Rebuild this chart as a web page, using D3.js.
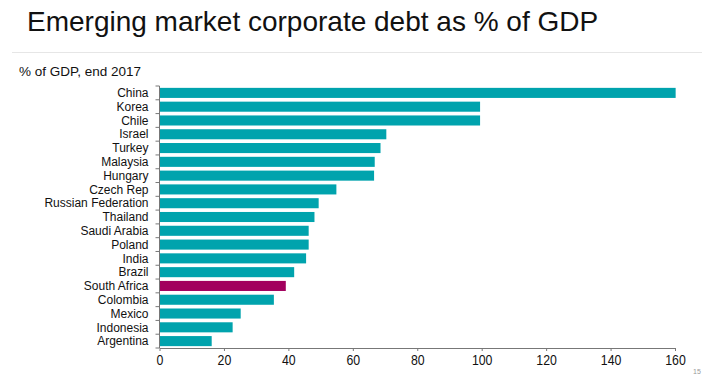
<!DOCTYPE html>
<html><head><meta charset="utf-8">
<script src="https://cdn.jsdelivr.net/npm/d3@7"></script>
<style>body{margin:0;background:#fff}svg{display:block}text{font-family:"Liberation Sans",Arial,sans-serif}</style>
</head><body>
<svg id="c" width="714" height="379"></svg>
<script>
const categories = ["China","Korea","Chile","Israel","Turkey","Malaysia","Hungary","Czech Rep","Russian Federation","Thailand","Saudi Arabia","Poland","India","Brazil","South Africa","Colombia","Mexico","Indonesia","Argentina"];
const values = [160.2,99.5,99.5,70.4,68.6,66.8,66.6,54.9,49.4,48.1,46.3,46.3,45.5,41.8,39.2,35.5,25.2,22.7,16.2];
const highlight = ["South Africa"];
const xTicks = [0,20,40,60,80,100,120,140,160];
const title = "Emerging market corporate debt as % of GDP";
const subtitle = "% of GDP, end 2017";
const pageNo = "15";

const svg = d3.select("#c");
const x = d3.scaleLinear().domain([0,160]).range([159.5,675]);
const y = d3.scaleBand().domain(categories).range([86,348]).paddingInner(0.27).paddingOuter(0.135);

svg.append("text").attr("x",27).attr("y",31).attr("font-size",28).attr("fill","#111").text(title);
svg.append("line").attr("x1",12).attr("x2",702).attr("y1",52.5).attr("y2",52.5).attr("stroke","#e6e6e6").attr("stroke-width",1);
svg.append("text").attr("x",19).attr("y",76).attr("font-size",13.5).attr("fill","#111").text(subtitle);

svg.selectAll("rect.bar").data(categories).join("rect").attr("class","bar")
  .attr("x",x(0)).attr("y",d=>y(d)).attr("height",y.bandwidth())
  .attr("width",(d,i)=>x(values[i])-x(0))
  .attr("fill",d=>highlight.includes(d)?"#A2005E":"#00A3AD");

// y axis
const yg = svg.append("g");
yg.append("line").attr("x1",x(0)).attr("x2",x(0)).attr("y1",86).attr("y2",348).attr("stroke","#777");
const bounds = d3.range(categories.length+1).map(i=>86+i*y.step());
yg.selectAll("line.t").data(bounds).join("line").attr("class","t")
  .attr("x1",x(0)-4).attr("x2",x(0)).attr("y1",d=>d).attr("y2",d=>d).attr("stroke","#777");
yg.selectAll("text").data(categories).join("text")
  .attr("x",148.5).attr("y",d=>y(d)+y.bandwidth()/2).attr("dy","0.35em")
  .attr("text-anchor","end").attr("font-size",12).attr("fill","#111").text(d=>d);

// x axis
const xg = svg.append("g").attr("transform","translate(0,348)");
xg.call(d3.axisBottom(x).tickValues(xTicks).tickSize(3).tickPadding(4).tickSizeOuter(0));
xg.select(".domain").attr("stroke","#777");
xg.selectAll(".tick line").attr("stroke","#777");
xg.selectAll(".tick text").attr("font-size",14).attr("fill","#111").attr("font-family","Liberation Sans, Arial, sans-serif")
  .attr("transform","scale(0.88,1)");

svg.append("text").attr("x",697).attr("y",374).attr("font-size",7).attr("fill","#999").attr("text-anchor","middle").text(pageNo);
</script>
</body></html>
